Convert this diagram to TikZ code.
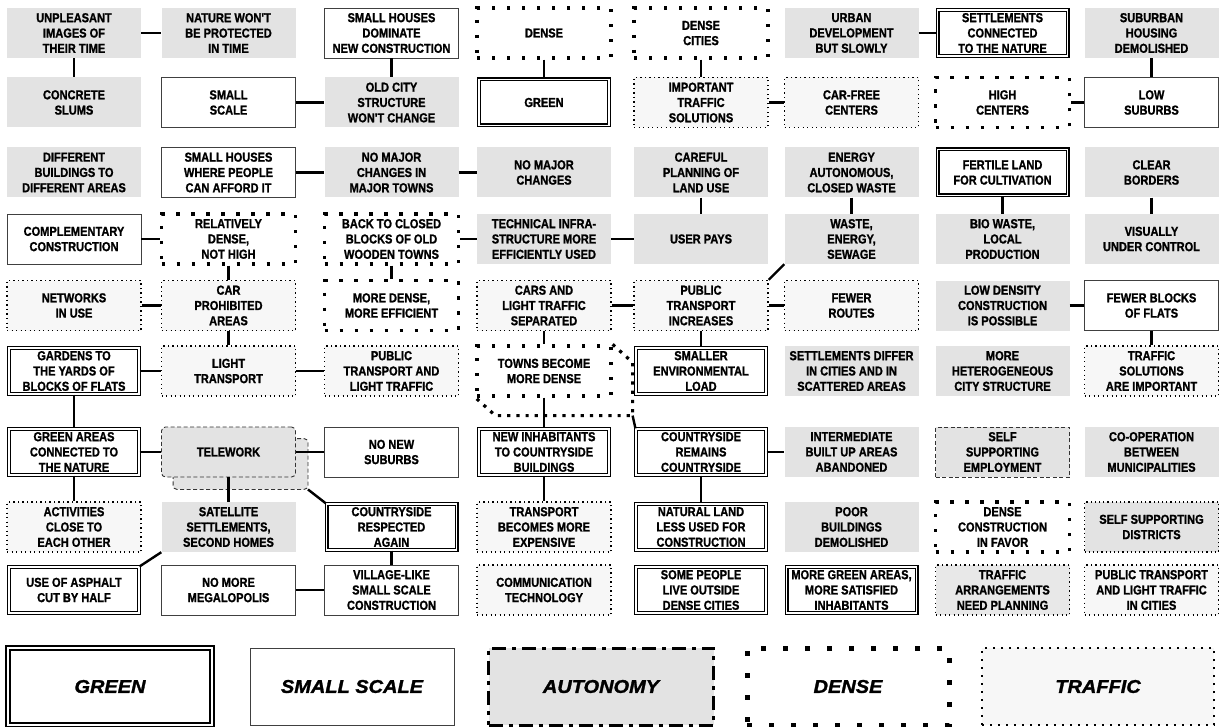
\documentclass[tikz,border=0pt]{standalone}
\usepackage{fontspec}
\usepackage{tikz}
\usetikzlibrary{calc, backgrounds}
\newfontfamily\boxfont{Liberation Sans}[FakeStretch=0.85, BoldFeatures={FakeBold=1.2}]
\newfontfamily\keyfont{Liberation Sans}[FakeStretch=1.08, BoldItalicFeatures={FakeBold=1.5}]

\begin{document}
\begin{tikzpicture}[x=1pt, y=-1pt,
    blk/.style={minimum width=134pt, minimum height=50pt, inner sep=1pt, align=center,
      font=\boxfont\bfseries\fontsize{13}{15.3}\selectfont},
    grn/.style={blk, draw, line width=1.1pt, double, double distance=1.8pt, minimum width=130pt, minimum height=46pt},
    sml/.style={blk, draw=black!75, line width=0.8pt},
    aut/.style={blk, fill=gray!22},
    autd/.style={aut, draw=black!80, line width=0.9pt, dash pattern=on 4pt off 2.5pt},
    dns/.style={blk, draw, line width=3.2pt, dash pattern=on 3.2pt off 11.8pt},
    trf/.style={blk, draw, fill=gray!6, line width=1.3pt, dash pattern=on 1.3pt off 3.2pt},
    link/.style={line width=2.4pt},
    key/.style={minimum width=204pt, minimum height=77pt,
      font=\keyfont\bfseries\itshape\fontsize{18.5}{19}\selectfont}]
  \useasboundingbox (0,0) rectangle (1222,727);

  \node[aut] (a1) at (74,33)     {UNPLEASANT\\IMAGES OF\\THEIR TIME};
  \node[aut] (a2) at (228.5,33)  {NATURE WON'T\\BE PROTECTED\\IN TIME};
  \node[sml] (a3) at (391.5,33)  {SMALL HOUSES\\DOMINATE\\NEW CONSTRUCTION};
  \node[dns] (a4) at (544,33)    {DENSE};
  \node[dns] (a5) at (701,33)    {DENSE\\CITIES};
  \node[aut] (a6) at (851.5,33)  {URBAN\\DEVELOPMENT\\BUT SLOWLY};
  \node[grn] (a7) at (1002.5,33) {SETTLEMENTS\\CONNECTED\\TO THE NATURE};
  \node[aut] (a8) at (1151.5,33) {SUBURBAN\\HOUSING\\DEMOLISHED};

  \node[aut] (b1) at (74,102.5)     {CONCRETE\\SLUMS};
  \node[sml] (b2) at (228.5,102.5)  {SMALL\\SCALE};
  \node[aut] (b3) at (391.5,102.5)  {OLD CITY\\STRUCTURE\\WON'T CHANGE};
  \node[grn] (b4) at (544,102.5)    {GREEN};
  \node[trf] (b5) at (701,102.5)    {IMPORTANT\\TRAFFIC\\SOLUTIONS};
  \node[trf] (b6) at (851.5,102.5)  {CAR-FREE\\CENTERS};
  \node[dns] (b7) at (1002.5,102.5) {HIGH\\CENTERS};
  \node[sml] (b8) at (1151.5,102.5) {LOW\\SUBURBS};

  \node[aut] (c1) at (74,172.5)     {DIFFERENT\\BUILDINGS TO\\DIFFERENT AREAS};
  \node[sml] (c2) at (228.5,172.5)  {SMALL HOUSES\\WHERE PEOPLE\\CAN AFFORD IT};
  \node[aut] (c3) at (391.5,172.5)  {NO MAJOR\\CHANGES IN\\MAJOR TOWNS};
  \node[aut] (c4) at (544,172.5)    {NO MAJOR\\CHANGES};
  \node[aut] (c5) at (701,172.5)    {CAREFUL\\PLANNING OF\\LAND USE};
  \node[aut] (c6) at (851.5,172.5)  {ENERGY\\AUTONOMOUS,\\CLOSED WASTE};
  \node[grn] (c7) at (1002.5,172.5) {FERTILE LAND\\FOR CULTIVATION};
  \node[aut] (c8) at (1151.5,172.5) {CLEAR\\BORDERS};

  \node[sml] (d1) at (74,239)     {COMPLEMENTARY\\CONSTRUCTION};
  \node[dns] (d2) at (228.5,239)  {RELATIVELY\\DENSE,\\NOT HIGH};
  \node[dns] (d3) at (391.5,239)  {BACK TO CLOSED\\BLOCKS OF OLD\\WOODEN TOWNS};
  \node[aut] (d4) at (544,239)    {TECHNICAL INFRA-\\STRUCTURE MORE\\EFFICIENTLY USED};
  \node[aut] (d5) at (701,239)    {USER PAYS};
  \node[aut] (d6) at (851.5,239)  {WASTE,\\ENERGY,\\SEWAGE};
  \node[aut] (d7) at (1002.5,239) {BIO WASTE,\\LOCAL\\PRODUCTION};
  \node[aut] (d8) at (1151.5,239) {VISUALLY\\UNDER CONTROL};

  \node[trf] (e1) at (74,305.5)     {NETWORKS\\IN USE};
  \node[trf] (e2) at (228.5,305.5)  {CAR\\PROHIBITED\\AREAS};
  \node[dns] (e3) at (391.5,305.5)  {MORE DENSE,\\MORE EFFICIENT};
  \node[trf] (e4) at (544,305.5)    {CARS AND\\LIGHT TRAFFIC\\SEPARATED};
  \node[trf] (e5) at (701,305.5)    {PUBLIC\\TRANSPORT\\INCREASES};
  \node[trf] (e6) at (851.5,305.5)  {FEWER\\ROUTES};
  \node[aut] (e7) at (1002.5,305.5) {LOW DENSITY\\CONSTRUCTION\\IS POSSIBLE};
  \node[sml] (e8) at (1151.5,305.5) {FEWER BLOCKS\\OF FLATS};

  \node[grn] (f1) at (74,371)     {GARDENS TO\\THE YARDS OF\\BLOCKS OF FLATS};
  \node[trf] (f2) at (228.5,371)  {LIGHT\\TRANSPORT};
  \node[trf] (f3) at (391.5,371)  {PUBLIC\\TRANSPORT AND\\LIGHT TRAFFIC};
  \node[dns, fill=white] (f4) at (544,371) {TOWNS BECOME\\MORE DENSE};
  \node[grn, fill=white] (f5) at (701,371) {SMALLER\\ENVIRONMENTAL\\LOAD};
  \node[aut] (f6) at (851.5,371)  {SETTLEMENTS DIFFER\\IN CITIES AND IN\\SCATTERED AREAS};
  \node[aut] (f7) at (1002.5,371) {MORE\\HETEROGENEOUS\\CITY STRUCTURE};
  \node[trf] (f8) at (1151.5,371) {TRAFFIC\\SOLUTIONS\\ARE IMPORTANT};

  \node[grn] (g1) at (74,452)     {GREEN AREAS\\CONNECTED TO\\THE NATURE};
  \node[autd, rounded corners=4pt] (g2) at (228.5,452) {TELEWORK};
  \node[sml] (g3) at (391.5,452)  {NO NEW\\SUBURBS};
  \node[grn] (g4) at (544,452)    {NEW INHABITANTS\\TO COUNTRYSIDE\\BUILDINGS};
  \node[grn] (g5) at (701,452)    {COUNTRYSIDE\\REMAINS\\COUNTRYSIDE};
  \node[aut] (g6) at (851.5,452)  {INTERMEDIATE\\BUILT UP AREAS\\ABANDONED};
  \node[autd] (g7) at (1002.5,452) {SELF\\SUPPORTING\\EMPLOYMENT};
  \node[aut] (g8) at (1151.5,452) {CO-OPERATION\\BETWEEN\\MUNICIPALITIES};

  \node[trf] (h1) at (74,527)     {ACTIVITIES\\CLOSE TO\\EACH OTHER};
  \node[aut] (h2) at (228.5,527)  {SATELLITE\\SETTLEMENTS,\\SECOND HOMES};
  \node[grn] (h3) at (391.5,527)  {COUNTRYSIDE\\RESPECTED\\AGAIN};
  \node[trf] (h4) at (544,527)    {TRANSPORT\\BECOMES MORE\\EXPENSIVE};
  \node[grn] (h5) at (701,527)    {NATURAL LAND\\LESS USED FOR\\CONSTRUCTION};
  \node[aut] (h6) at (851.5,527)  {POOR\\BUILDINGS\\DEMOLISHED};
  \node[dns] (h7) at (1002.5,527) {DENSE\\CONSTRUCTION\\IN FAVOR};
  \node[aut, draw, line width=1.2pt, dash pattern=on 1.2pt off 3pt] (h8) at (1151.5,527) {SELF SUPPORTING\\DISTRICTS};

  \node[grn] (i1) at (74,590)     {USE OF ASPHALT\\CUT BY HALF};
  \node[sml] (i2) at (228.5,590)  {NO MORE\\MEGALOPOLIS};
  \node[sml] (i3) at (391.5,590)  {VILLAGE-LIKE\\SMALL SCALE\\CONSTRUCTION};
  \node[trf] (i4) at (544,590)    {COMMUNICATION\\TECHNOLOGY};
  \node[grn] (i5) at (701,590)    {SOME PEOPLE\\LIVE OUTSIDE\\DENSE CITIES};
  \node[grn] (i6) at (851.5,590)  {MORE GREEN AREAS,\\MORE SATISFIED\\INHABITANTS};
  \node[trf, fill=gray!18] (i7) at (1002.5,590) {TRAFFIC\\ARRANGEMENTS\\NEED PLANNING};
  \node[trf] (i8) at (1151.5,590) {PUBLIC TRANSPORT\\AND LIGHT TRAFFIC\\IN CITIES};

  \coordinate (townsrear) at ($(f4.south east)+(20,18)$);
  \coordinate (telerear) at ($(g2.south east)+(12,12)$);
  \begin{scope}[on background layer]
    \draw[line width=3.2pt, dash pattern=on 3.2pt off 6pt] (f4.north east) -- ++(20,18) -- (townsrear) -- ($(f4.south west)+(20,18)$) -- (f4.south west);
    \draw[fill=gray!22, draw=black!80, line width=0.9pt, dash pattern=on 4pt off 2.5pt, rounded corners=4pt]
      ($(g2.south west)+(12,12)$) rectangle ($(g2.north east)+(12,12)$);
  \end{scope}

  \draw[link] (a1) -- (a2);
  \draw[link] (a1) -- (b1);
  \draw[link] (a3) -- (b3);
  \draw[link] (a4) -- (b4);
  \draw[link] (a5) -- (b5);
  \draw[link] (a6) -- (a7);
  \draw[link] (a8) -- (b8);
  \draw[link] (b2) -- (b3);
  \draw[link] (b5) -- (b6);
  \draw[link] (b7) -- (b8);
  \draw[link] (c2) -- (c3);
  \draw[link] (c3) -- (c4);
  \draw[link] (c5) -- (d5);
  \draw[link] (c6) -- (d6);
  \draw[link] (c7) -- (d7);
  \draw[link] (c8) -- (d8);
  \draw[link] (d1) -- (d2);
  \draw[link] (d3) -- (d4);
  \draw[link] (d4) -- (d5);
  \draw[link] (d2) -- (e2);
  \draw[link] (d3) -- (e3);
  \draw[link] (d6.south west) -- (e5.north east);
  \draw[link] (e1) -- (e2);
  \draw[link] (e2) -- (f2);
  \draw[link] (e4) -- (f4);
  \draw[link] (e4) -- (e5);
  \draw[link] (e5) -- (e6);
  \draw[link] (e5) -- (f5);
  \draw[link] (e7) -- (e8);
  \draw[link] (e8) -- (f8);
  \draw[link] (f1) -- (f2);
  \draw[link] (f2) -- (f3);
  \draw[link] (f1) -- (g1);
  \draw[link] (f4) -- (g4);
  \draw[link] (townsrear) -- (g5.north west);
  \draw[link] (g1) -- (g2);
  \draw[link] (g2) -- (g3);
  \draw[link] (g1) -- (h1);
  \draw[link] (g2) -- (h2);
  \draw[link] (telerear) -- (h3.north west);
  \draw[link] (g4) -- (h4);
  \draw[link] (g5) -- (h5);
  \draw[link] (g5) -- (g6);
  \draw[link] (h2.south west) -- (i1.north east);
  \draw[link] (h3) -- (i3);
  \draw[link] (i2) -- (i3);

  \node[key, draw, line width=1.6pt, double, double distance=2.4pt] (lg) at (110,686.5) {GREEN};
  \node[key, draw=black!75, line width=1pt] (ls) at (352,686.5) {SMALL SCALE};
  \node[key, minimum width=225pt, fill=gray!22, draw, line width=3pt, dash pattern=on 14pt off 6pt on 4pt off 6pt] (la) at (601,686.5) {AUTONOMY};
  \node[key, minimum width=202pt, draw, line width=5pt, dash pattern=on 5pt off 17pt] (ld) at (848,686.5) {DENSE};
  \node[key, minimum width=232pt, draw, fill=gray!6, line width=2.4pt, dash pattern=on 2.4pt off 5.6pt] (lt) at (1098,686.5) {TRAFFIC};
\end{tikzpicture}
\end{document}
